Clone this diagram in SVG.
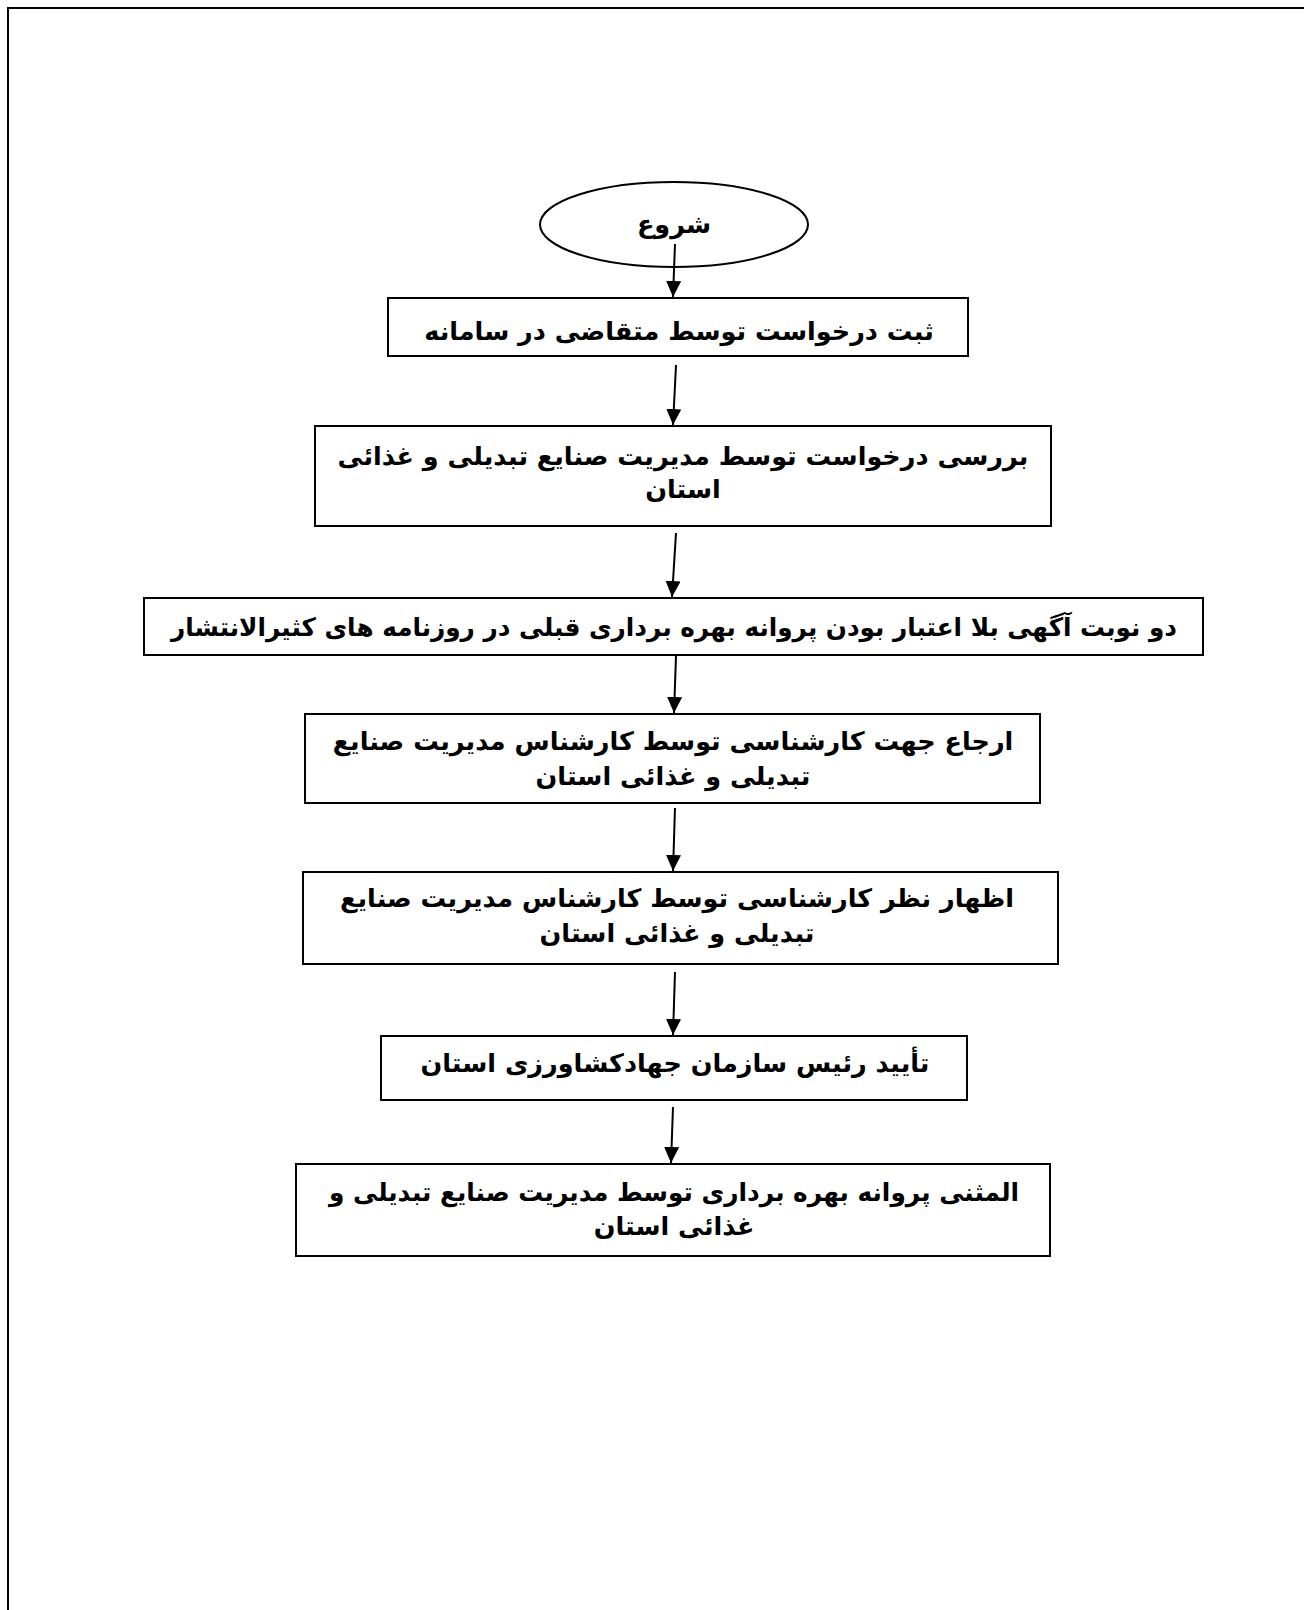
<svg xmlns="http://www.w3.org/2000/svg" width="1304" height="1610" viewBox="0 0 1304 1610">
<defs>
<style>
.box{fill:#fff;stroke:#000;stroke-width:2}
.t{font-family:"DejaVu Sans","Noto Sans",sans-serif;font-weight:bold;font-size:25.5px;fill:#000;text-anchor:middle}
.c{stroke:#000;stroke-width:2;fill:none}
</style>
<marker id="ah" viewBox="0 0 16 15" refX="16" refY="7.5" markerWidth="16" markerHeight="15" markerUnits="userSpaceOnUse" orient="auto">
<path d="M0,0 L16,7.5 L0,15 Z" fill="#000"/>
</marker>
</defs>
<rect width="1304" height="1610" fill="#fff"/>
<path d="M8,1612 L8,8 L1306,8" stroke="#000" stroke-width="2" fill="none"/>
<g id="start">
<ellipse class="box" cx="674" cy="224.5" rx="134" ry="42.5"/>
<text class="t" x="674" y="233" direction="rtl">شروع</text>
</g>
<g id="n1">
<rect class="box" x="388" y="298" width="580" height="58"/>
<text class="t" x="679" y="340" direction="rtl">ثبت درخواست توسط متقاضی در سامانه</text>
</g>
<g id="n2">
<rect class="box" x="315" y="426" width="736" height="100"/>
<text class="t" x="683" y="465" direction="rtl">بررسی درخواست توسط مدیریت صنایع تبدیلی و غذائی</text>
<text class="t" x="683" y="498" direction="rtl">استان</text>
</g>
<g id="n3">
<rect class="box" x="144" y="598" width="1059" height="57"/>
<text class="t" x="674" y="636" direction="rtl" textLength="1006" lengthAdjust="spacingAndGlyphs">دو نوبت آگهی بلا اعتبار بودن پروانه بهره برداری قبلی در روزنامه های کثیرالانتشار</text>
</g>
<g id="n4">
<rect class="box" x="305" y="714" width="735" height="89"/>
<text class="t" x="673" y="750" direction="rtl">ارجاع جهت کارشناسی توسط کارشناس مدیریت صنایع</text>
<text class="t" x="673" y="785" direction="rtl">تبدیلی و غذائی استان</text>
</g>
<g id="n5">
<rect class="box" x="303" y="872" width="755" height="92"/>
<text class="t" x="677" y="907" direction="rtl">اظهار نظر کارشناسی توسط کارشناس مدیریت صنایع</text>
<text class="t" x="677" y="942" direction="rtl">تبدیلی و غذائی استان</text>
</g>
<g id="n6">
<rect class="box" x="381" y="1036" width="586" height="64"/>
<text class="t" x="675" y="1072" direction="rtl">تأیید رئیس سازمان جهادکشاورزی استان</text>
</g>
<g id="n7">
<rect class="box" x="296" y="1164" width="754" height="92"/>
<text class="t" x="674" y="1201" direction="rtl" textLength="690" lengthAdjust="spacingAndGlyphs">المثنی پروانه بهره برداری توسط مدیریت صنایع تبدیلی و</text>
<text class="t" x="674" y="1235" direction="rtl">غذائی استان</text>
</g>
<g id="connectors">
<line class="c" x1="675" y1="244" x2="673" y2="297" marker-end="url(#ah)"/>
<line class="c" x1="676" y1="365" x2="673" y2="425" marker-end="url(#ah)"/>
<line class="c" x1="676" y1="533" x2="672" y2="597" marker-end="url(#ah)"/>
<line class="c" x1="676" y1="656" x2="674" y2="713" marker-end="url(#ah)"/>
<line class="c" x1="675" y1="808" x2="673" y2="871" marker-end="url(#ah)"/>
<line class="c" x1="675" y1="972" x2="673" y2="1035" marker-end="url(#ah)"/>
<line class="c" x1="673" y1="1107" x2="671" y2="1163" marker-end="url(#ah)"/>
</g>
</svg>
